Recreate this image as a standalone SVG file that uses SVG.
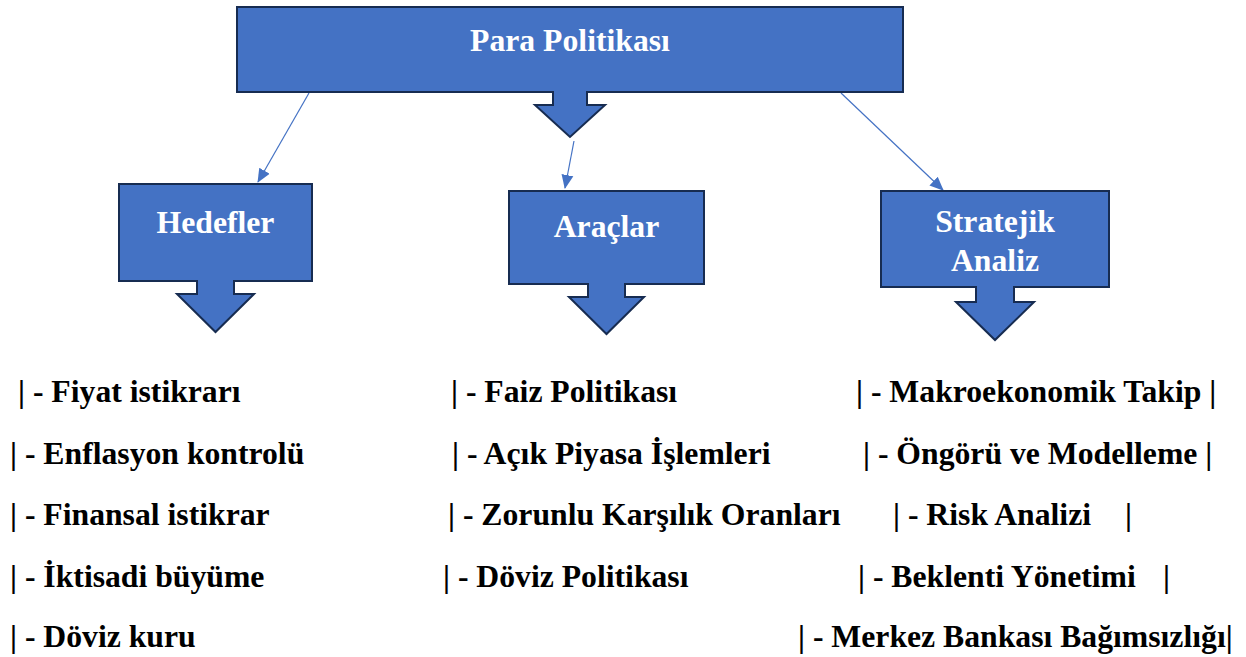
<svg xmlns="http://www.w3.org/2000/svg" width="1246" height="657" viewBox="0 0 1246 657">
  <style>
    .node { fill: #4472C4; stroke: #172C51; stroke-width: 2; stroke-linejoin: miter; }
    .ntext { font-family: "Liberation Serif", "Times New Roman", serif; font-weight: bold; font-size: 31.7px; fill: #FFFFFF; text-anchor: middle; }
    .conn { stroke: #4472C4; stroke-width: 1.2; fill: none; }
    .list { font-family: "Liberation Serif", "Times New Roman", serif; font-weight: bold; font-size: 31.7px; fill: #000000; }
  </style>
  <defs>
    <marker id="arrow" markerUnits="userSpaceOnUse" markerWidth="14" markerHeight="14" viewBox="0 0 14 14" refX="13" refY="7" orient="auto">
      <path d="M0,1 L14,7 L0,13 Z" fill="#4472C4"/>
    </marker>
  </defs>
  <rect width="1246" height="657" fill="#FFFFFF"/>

  <g id="connectors">
    <line class="conn" x1="309" y1="93" x2="258" y2="182" marker-end="url(#arrow)"/>
    <line class="conn" x1="574" y1="141" x2="565" y2="188" marker-end="url(#arrow)"/>
    <line class="conn" x1="841" y1="93" x2="943" y2="190" marker-end="url(#arrow)"/>
  </g>

  <g id="para-politikasi">
    <path class="node" d="M237,7 H903 V92 H587 V105 H605 L570,137 L535,105 H553 V92 H237 Z"/>
    <text class="ntext" x="570" y="51">Para Politikası</text>
  </g>

  <g id="hedefler">
    <path class="node" d="M119,184 H312 V281 H234 V294 H254 L215.5,332 L177,294 H197 V281 H119 Z"/>
    <text class="ntext" x="215.5" y="233">Hedefler</text>
  </g>

  <g id="araclar">
    <path class="node" d="M509,191 H704 V284 H625 V297 H644 L606.5,334 L569,297 H588 V284 H509 Z"/>
    <text class="ntext" x="606.5" y="237">Araçlar</text>
  </g>

  <g id="stratejik-analiz">
    <path class="node" d="M881,191 H1109 V287 H1014 V302 H1034 L995,340 L956,302 H976 V287 H881 Z"/>
    <text class="ntext" x="995" y="232">Stratejik</text>
    <text class="ntext" x="995" y="271">Analiz</text>
  </g>

  <g id="hedefler-list" class="list">
    <text x="18" y="402">| - Fiyat istikrarı</text>
    <text x="10" y="464">| - Enflasyon kontrolü</text>
    <text x="10" y="525">| - Finansal istikrar</text>
    <text x="10" y="587">| - İktisadi büyüme</text>
    <text x="10" y="647">| - Döviz kuru</text>
  </g>

  <g id="araclar-list" class="list">
    <text x="451" y="402">| - Faiz Politikası</text>
    <text x="452" y="464">| - Açık Piyasa İşlemleri</text>
    <text x="448" y="525">| - Zorunlu Karşılık Oranları</text>
    <text x="443" y="587">| - Döviz Politikası</text>
  </g>

  <g id="stratejik-list" class="list">
    <text x="856" y="402">| - Makroekonomik Takip |</text>
    <text x="863" y="464">| - Öngörü ve Modelleme |</text>
    <text x="893" y="525">| - Risk Analizi<tspan x="1125">|</tspan></text>
    <text x="858" y="587">| - Beklenti Yönetimi<tspan x="1163">|</tspan></text>
    <text x="798" y="647">| - Merkez Bankası Bağımsızlığı|</text>
  </g>
</svg>
